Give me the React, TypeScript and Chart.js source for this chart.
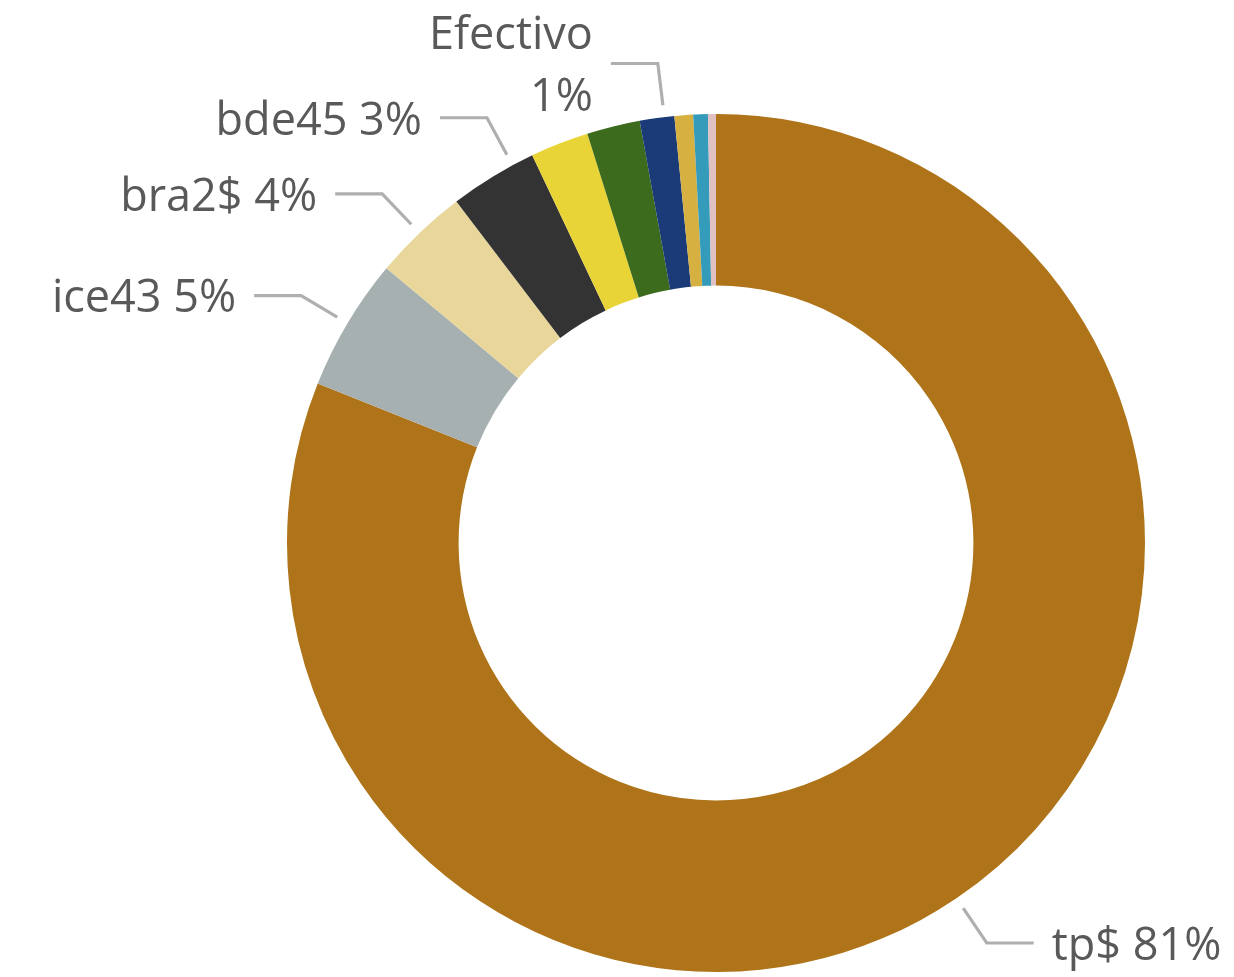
import React, { useEffect, useRef } from "react";
import { Chart, registerables } from "chart.js";

Chart.register(...registerables);

const categories = ["tp$", "ice43", "bra2$", "bde45", "Otro 1", "Otro 2", "Efectivo", "Otro 3", "Otro 4", "Otro 5"];
const values = [81.1, 5.0, 3.6, 3.3, 2.2, 2.0, 1.3, 0.7, 0.55, 0.3];
const colors = ["#AF7419", "#A6B0B1", "#E8D69A", "#333333", "#E8D437", "#3D6B1E", "#1A3A78", "#D7B042", "#359BBA", "#DFC0C3"];
const showLabel = [true, true, true, true, false, false, true, false, false, false];
const twoLineLabel = [false, false, false, false, false, false, true, false, false, false];

const labelFont = "45px 'Open Sans', 'Noto Sans', sans-serif";
const angleShiftDeg: Record<number, number> = { 3: 3, 6: 1 };

const leaderPlugin = {
  id: "leaderLabels",
  afterDraw(chart: any) {
    const ctx = chart.ctx;
    const meta = chart.getDatasetMeta(0);
    const total = values.reduce((a, b) => a + b, 0);
    ctx.save();
    meta.data.forEach((arc: any, i: number) => {
      if (!showLabel[i]) return;
      const p = arc.getProps(["startAngle", "endAngle", "x", "y", "outerRadius"], true);
      const mid = (p.startAngle + p.endAngle) / 2 + ((angleShiftDeg[i] || 0) * Math.PI) / 180;
      const r1 = p.outerRadius + 12;
      const r2 = p.outerRadius + 54;
      const x1 = p.x + Math.cos(mid) * r1;
      const y1 = p.y + Math.sin(mid) * r1;
      const x2 = p.x + Math.cos(mid) * r2;
      const y2 = p.y + Math.sin(mid) * r2;
      const side = Math.cos(mid) >= 0 ? 1 : -1;
      const x3 = x2 + side * 47;
      ctx.strokeStyle = "#AFAFAF";
      ctx.lineWidth = 3.2;
      ctx.beginPath();
      ctx.moveTo(x1, y1);
      ctx.lineTo(x2, y2);
      ctx.lineTo(x3, y2);
      ctx.stroke();
      const pct = Math.round((values[i] / total) * 100) + "%";
      const lines = twoLineLabel[i] ? [categories[i], pct] : [categories[i] + " " + pct];
      ctx.font = labelFont;
      ctx.fillStyle = "#595959";
      ctx.textAlign = side > 0 ? "left" : "right";
      ctx.textBaseline = "middle";
      const tx = x3 + side * 18;
      const lh = 62;
      const startY = y2 + 4 - ((lines.length - 1) * lh) / 2;
      lines.forEach((t, k) => ctx.fillText(t, tx, startY + k * lh));
    });
    ctx.restore();
  },
};

export default function App() {
  const ref = useRef<HTMLCanvasElement>(null);
  useEffect(() => {
    if (!ref.current) return;
    const chart = new Chart(ref.current, {
      type: "doughnut",
      data: {
        labels: categories,
        datasets: [
          {
            data: values,
            backgroundColor: colors,
            borderWidth: 0,
          },
        ],
      },
      options: {
        responsive: false,
        animation: false,
        cutout: "60%",
        layout: { padding: { left: 287, right: 89, top: 114, bottom: 5 } },
        plugins: { legend: { display: false }, tooltip: { enabled: false } },
      },
      plugins: [leaderPlugin],
    });
    return () => chart.destroy();
  }, []);
  return (
    <div style={{ position: "absolute", left: 0, top: 0, width: 1234, height: 977, background: "#fff" }}>
      <canvas ref={ref} width={1234} height={977} style={{ width: 1234, height: 977 }} />
    </div>
  );
}
